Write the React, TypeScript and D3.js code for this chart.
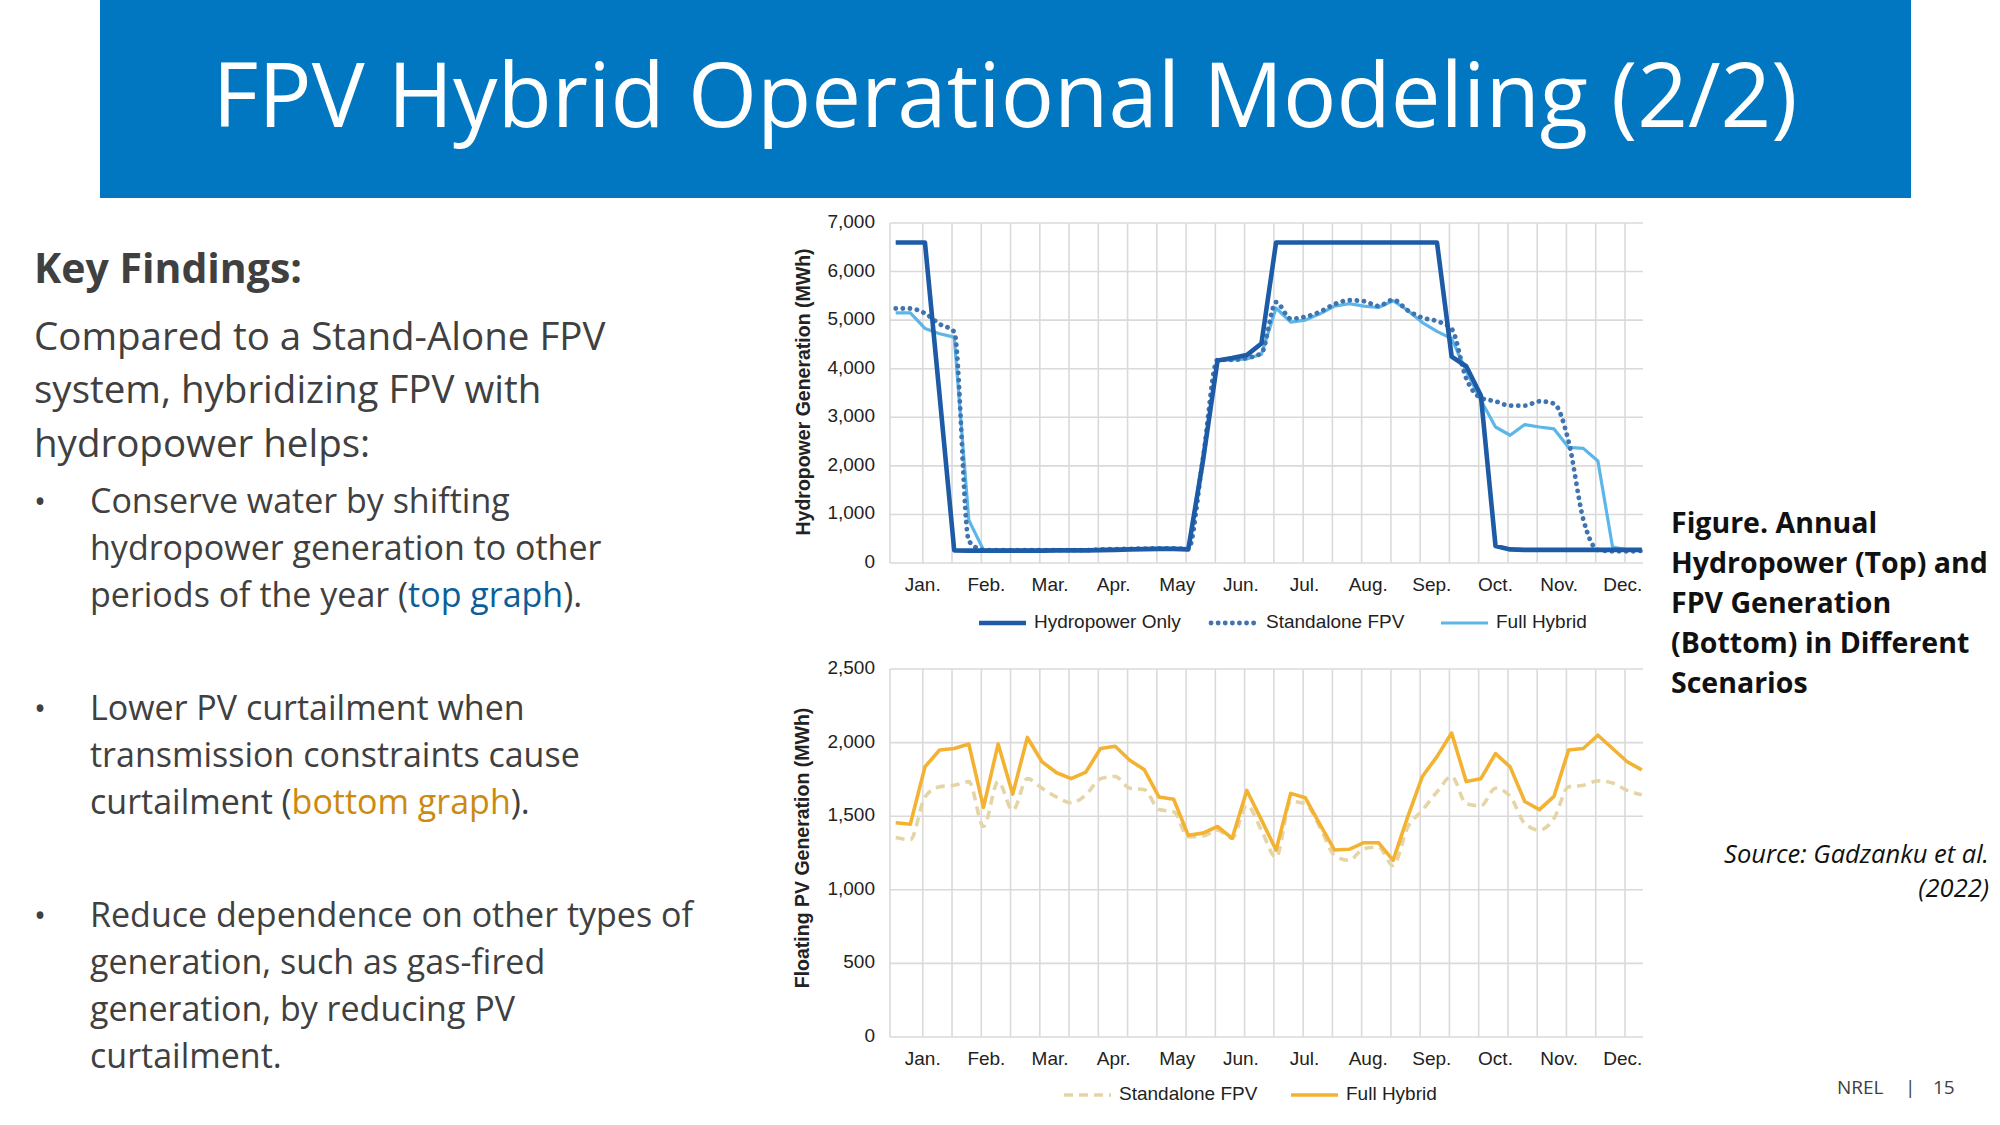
import * as d3 from "d3";

// month labels on both x axes
const months = ["Jan.", "Feb.", "Mar.", "Apr.", "May", "Jun.", "Jul.", "Aug.", "Sep.", "Oct.", "Nov.", "Dec."];

// top chart: weekly hydropower generation (MWh), 52 weeks
const hydroOnly = [
  6600, 6600, 6600, 3450, 260, 255, 255, 255, 255, 255, 255, 260, 260, 260, 265, 270, 280, 285, 290, 290,
  280, 2100, 4170, 4220, 4280, 4520, 6600, 6600, 6600, 6600, 6600, 6600, 6600, 6600, 6600, 6600, 6600, 6600,
  4250, 4050, 3450, 350, 280, 270, 270, 270, 270, 270, 270, 270, 270, 270,
];
const standaloneHydro = [
  5240, 5240, 5140, 4920, 4760, 450, 270, 265, 265, 265, 265, 265, 265, 265, 280, 285, 290, 295, 300, 300,
  290, 2150, 4180, 4180, 4220, 4320, 5370, 5030, 5070, 5170, 5330, 5410, 5390, 5290, 5420, 5200, 5050, 4980,
  4820, 3800, 3400, 3330, 3240, 3240, 3330, 3280, 2500, 900, 270, 240, 240, 250,
];
const hybridHydro = [
  5150, 5150, 4830, 4720, 4650, 880, 270, 265, 265, 265, 265, 265, 265, 265, 280, 285, 290, 295, 300, 300,
  290, 2150, 4170, 4180, 4200, 4300, 5250, 4960, 5000, 5130, 5290, 5340, 5290, 5260, 5400, 5200, 4950, 4770,
  4620, 3950, 3350, 2800, 2630, 2850, 2800, 2760, 2380, 2360, 2100, 330, 270, 270,
];

// bottom chart: weekly floating PV generation (MWh)
const standalonePV = [
  1355, 1340, 1630, 1700, 1710, 1735, 1430, 1735, 1540, 1755, 1690, 1630, 1590, 1645, 1755, 1770, 1690, 1680,
  1545, 1530, 1360, 1365, 1405, 1350, 1575, 1405, 1220, 1600, 1585, 1425, 1235, 1200, 1280, 1290,
  1165, 1425, 1540, 1665, 1770, 1585, 1570, 1690, 1635, 1450, 1405, 1485, 1700, 1710, 1740, 1725, 1675, 1645,
];
const hybridPV = [
  1455, 1445, 1835, 1950, 1960, 1990, 1560, 1990, 1650, 2035, 1870, 1795, 1755, 1800, 1960, 1975, 1880, 1815,
  1630, 1615, 1370, 1385, 1430, 1350, 1675, 1475, 1270, 1655, 1625, 1445, 1270, 1275, 1320, 1320,
  1200, 1495, 1770, 1905, 2065, 1735, 1755, 1925, 1835, 1600, 1545, 1635, 1950, 1960, 2050, 1960, 1870, 1815,
];

const hydroTicks = [0, 1000, 2000, 3000, 4000, 5000, 6000, 7000];
const pvTicks = [0, 500, 1000, 1500, 2000, 2500];

const C = {
  dark: "#1e5ba6",
  dotted: "#3f74b0",
  light: "#5cb6e8",
  orange: "#f4b233",
  beige: "#e5d5a6",
  grid: "#dadada",
  text: "#404040",
  axis: "#222",
};

const chartFont = "'Liberation Sans', Arial, sans-serif";
const slideFont = "'Open Sans', 'Noto Sans', sans-serif";
const DOTS = "0.1 7";

export default function App() {
  const plotLeft = 890;
  const plotRight = 1643;
  const x = d3.scaleLinear().domain([0, 51]).range([895.7, 1641.8]);
  const yTop = d3.scaleLinear().domain([0, 7000]).range([563, 223]);
  const yBot = d3.scaleLinear().domain([0, 2500]).range([1037, 669]);
  const gridWeeks = d3.range(1.85, 50, 2);
  const monthX = d3.scalePoint<string>().domain(months).range([x(1.85), x(49.7)]);
  const fmt = d3.format(",");

  const mkLine = (y: d3.ScaleLinear<number, number>, curve: d3.CurveFactory) =>
    d3
      .line<number>()
      .x((_, i) => x(i))
      .y((v) => y(v))
      .curve(curve);

  const topLinear = mkLine(yTop, d3.curveLinear);
  const topSmooth = mkLine(yTop, d3.curveMonotoneX);
  const botLinear = mkLine(yBot, d3.curveLinear);
  const botSmooth = mkLine(yBot, d3.curveMonotoneX);

  const grid = (y: d3.ScaleLinear<number, number>, ticks: number[]) => {
    const [y0, y1] = y.range();
    return (
      <g>
        {ticks.map((t) => (
          <line key={`h${t}`} x1={plotLeft} x2={plotRight} y1={y(t)} y2={y(t)} stroke={C.grid} strokeWidth={1.6} />
        ))}
        <line x1={plotLeft} x2={plotLeft} y1={y0} y2={y1} stroke={C.grid} strokeWidth={1.6} />
        {gridWeeks.map((w) => (
          <line key={`v${w}`} x1={x(w)} x2={x(w)} y1={y0} y2={y1} stroke={C.grid} strokeWidth={1.6} />
        ))}
        {ticks.map((t) => (
          <text
            key={`t${t}`}
            x={875}
            y={y(t)}
            textAnchor="end"
            dominantBaseline="middle"
            fontFamily={chartFont}
            fontSize={19}
            fill={C.axis}
          >
            {fmt(t)}
          </text>
        ))}
        {months.map((m) => (
          <text
            key={m}
            x={monthX(m)}
            y={y0 + 23}
            textAnchor="middle"
            dominantBaseline="middle"
            fontFamily={chartFont}
            fontSize={19}
            fill={C.axis}
          >
            {m}
          </text>
        ))}
      </g>
    );
  };

  const legendItem = (
    lx: number,
    ly: number,
    label: string,
    stroke: string,
    width: number,
    dash?: string
  ) => (
    <g key={label}>
      <line
        x1={lx}
        x2={lx + 47}
        y1={ly}
        y2={ly}
        stroke={stroke}
        strokeWidth={width}
        strokeDasharray={dash}
        strokeLinecap={dash === DOTS ? "round" : "butt"}
      />
      <text x={lx + 55} y={ly} dominantBaseline="middle" fontFamily={chartFont} fontSize={19} fill={C.axis}>
        {label}
      </text>
    </g>
  );

  const bodyLine = (text: React.ReactNode, bx: number, by: number, size: number) => (
    <text x={bx} y={by} fontFamily={slideFont} fontSize={size} fill={C.text}>
      {text}
    </text>
  );

  return (
    <svg
      width={2000}
      height={1125}
      viewBox="0 0 2000 1125"
      style={{ position: "absolute", left: 0, top: 0, background: "#fff" }}
    >
      <rect x={0} y={0} width={2000} height={1125} fill="#fff" />

      {/* banner */}
      <rect x={100} y={0} width={1811} height={198} fill="#0077c0" />
      <text
        x={1005}
        y={127}
        textAnchor="middle"
        fontFamily={slideFont}
        fontSize={90}
        fill="#fff"
        textLength={1585}
        lengthAdjust="spacingAndGlyphs"
      >
        FPV Hybrid Operational Modeling (2/2)
      </text>

      {/* left text */}
      <text x={34} y={283} fontFamily={slideFont} fontSize={41} fontWeight={700} fill={C.text}>
        Key Findings:
      </text>
      {bodyLine("Compared to a Stand-Alone FPV", 34, 350, 38.5)}
      {bodyLine("system, hybridizing FPV with", 34, 403, 38.5)}
      {bodyLine("hydropower helps:", 34, 457, 38.5)}

      {[513, 720, 927].map((by) => (
        <text key={by} x={34} y={by} fontFamily={slideFont} fontSize={32} fill={C.text}>
          •
        </text>
      ))}
      {bodyLine("Conserve water by shifting", 90, 513, 34)}
      {bodyLine("hydropower generation to other", 90, 560, 34)}
      {bodyLine(
        <>
          periods of the year (<tspan fill="#0b5e9a">top graph</tspan>).
        </>,
        90,
        607,
        34
      )}
      {bodyLine("Lower PV curtailment when", 90, 720, 34)}
      {bodyLine("transmission constraints cause", 90, 767, 34)}
      {bodyLine(
        <>
          curtailment (<tspan fill="#cc8a10">bottom graph</tspan>).
        </>,
        90,
        814,
        34
      )}
      {bodyLine("Reduce dependence on other types of", 90, 927, 34)}
      {bodyLine("generation, such as gas-fired", 90, 974, 34)}
      {bodyLine("generation, by reducing PV", 90, 1021, 34)}
      {bodyLine("curtailment.", 90, 1068, 34)}

      {/* top chart */}
      {grid(yTop, hydroTicks)}
      <text
        transform={`translate(810,392) rotate(-90)`}
        textAnchor="middle"
        fontFamily={chartFont}
        fontSize={19.5}
        fontWeight={700}
        fill={C.axis}
      >
        Hydropower Generation (MWh)
      </text>
      <path d={topLinear(hybridHydro) ?? ""} fill="none" stroke={C.light} strokeWidth={3.2} strokeLinejoin="round" />
      <path
        d={topSmooth(standaloneHydro) ?? ""}
        fill="none"
        stroke={C.dotted}
        strokeWidth={4.8}
        strokeDasharray={DOTS}
        strokeLinecap="round"
      />
      <path d={topLinear(hydroOnly) ?? ""} fill="none" stroke={C.dark} strokeWidth={4.6} strokeLinejoin="round" />
      {legendItem(979, 623, "Hydropower Only", C.dark, 4.6)}
      {legendItem(1211, 623, "Standalone FPV", C.dotted, 4.8, DOTS)}
      {legendItem(1441, 623, "Full Hybrid", C.light, 3.2)}

      {/* bottom chart */}
      {grid(yBot, pvTicks)}
      <text
        transform={`translate(809,848) rotate(-90)`}
        textAnchor="middle"
        fontFamily={chartFont}
        fontSize={19.5}
        fontWeight={700}
        fill={C.axis}
      >
        Floating PV Generation (MWh)
      </text>
      <path
        d={botSmooth(standalonePV) ?? ""}
        fill="none"
        stroke={C.beige}
        strokeWidth={3.6}
        strokeDasharray="9 6"
      />
      <path d={botLinear(hybridPV) ?? ""} fill="none" stroke={C.orange} strokeWidth={3.6} strokeLinejoin="round" />
      {legendItem(1064, 1095, "Standalone FPV", C.beige, 3.6, "9 6")}
      {legendItem(1291, 1095, "Full Hybrid", C.orange, 3.6)}

      {/* caption */}
      {["Figure. Annual", "Hydropower (Top) and", "FPV Generation", "(Bottom) in Different", "Scenarios"].map(
        (l, i) => (
          <text
            key={l}
            x={1671}
            y={533 + i * 40}
            fontFamily={slideFont}
            fontSize={28.5}
            fontWeight={700}
            fill="#111"
          >
            {l}
          </text>
        )
      )}
      <text x={1989} y={863} textAnchor="end" fontFamily={slideFont} fontSize={25.5} fontStyle="italic" fill="#111">
        Source: Gadzanku et al.
      </text>
      <text x={1989} y={897} textAnchor="end" fontFamily={slideFont} fontSize={25.5} fontStyle="italic" fill="#111">
        (2022)
      </text>

      {/* footer */}
      <text x={1837} y={1094} fontFamily={slideFont} fontSize={19} fill={C.text}>
        NREL
      </text>
      <text x={1905} y={1094} fontFamily={slideFont} fontSize={19} fill={C.text}>
        |
      </text>
      <text x={1933} y={1094} fontFamily={slideFont} fontSize={19} fill={C.text}>
        15
      </text>
    </svg>
  );
}
